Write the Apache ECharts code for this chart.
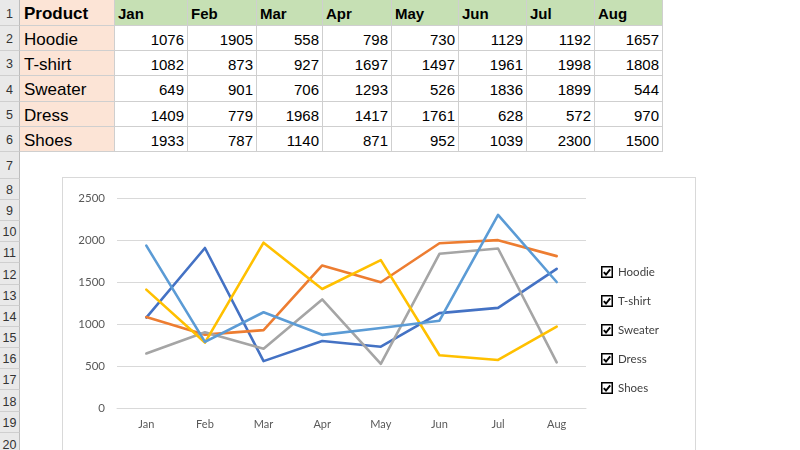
<!DOCTYPE html>
<html>
<head>
<meta charset="utf-8">
<script src="https://cdn.jsdelivr.net/npm/echarts@6/dist/echarts.min.js"></script>
<style>
  html, body { margin: 0; padding: 0; width: 800px; height: 450px; overflow: hidden; background: #fff; }
  #sheet { position: absolute; left: 0; top: 0; width: 800px; height: 450px; }
  .cell { position: absolute; box-sizing: border-box; border-right: 1px solid #cfcfcf; border-bottom: 1px solid #cfcfcf;
          font-family: "Liberation Sans", Arial, sans-serif; font-size: 15px; color: #000; white-space: nowrap; overflow: hidden; }
  .rowhead { background: #e9e9e9; color: #333; font-size: 12.5px; text-align: center; border-right: 1px solid #bdbdbd; border-bottom: 1px solid #cfcfcf; }
  #chart { position: absolute; left: 62px; top: 177px; width: 634px; height: 300px; box-sizing: border-box; border: 1px solid #d9d9d9; background: #fff; }
</style>
</head>
<body>
<div id="sheet"></div>
<div id="chart"></div>
<script>
  // table / chart data
  var months = ['Jan', 'Feb', 'Mar', 'Apr', 'May', 'Jun', 'Jul', 'Aug'];
  var products = ['Hoodie', 'T-shirt', 'Sweater', 'Dress', 'Shoes'];
  var hoodie  = [1076, 1905, 558, 798, 730, 1129, 1192, 1657];
  var tshirt  = [1082, 873, 927, 1697, 1497, 1961, 1998, 1808];
  var sweater = [649, 901, 706, 1293, 526, 1836, 1899, 544];
  var dress   = [1409, 779, 1968, 1417, 1761, 628, 572, 970];
  var shoes   = [1933, 787, 1140, 871, 952, 1039, 2300, 1500];
  var colors  = ['#4472C4', '#ED7D31', '#A5A5A5', '#FFC000', '#5B9BD5'];
  var yTicks  = [0, 500, 1000, 1500, 2000, 2500];
  var rows = [hoodie, tshirt, sweater, dress, shoes];

  // spreadsheet grid
  var colX = [0, 20, 115, 188, 257, 323, 392, 459, 527, 595, 663];
  var rowY = [0, 26, 51, 76, 102, 127, 152, 179, 200, 221, 242, 263, 285, 306, 327, 348, 369, 390, 412, 433, 455];
  var sheet = document.getElementById('sheet');

  function cell(x0, y0, x1, y1, text, style, cls) {
    var d = document.createElement('div');
    d.className = cls || 'cell';
    d.style.left = x0 + 'px';
    d.style.top = y0 + 'px';
    d.style.width = (x1 - x0) + 'px';
    d.style.height = (y1 - y0) + 'px';
    d.style.lineHeight = (y1 - y0 + 2) + 'px';
    if (style) for (var k in style) d.style[k] = style[k];
    d.textContent = text;
    sheet.appendChild(d);
  }

  for (var r = 0; r < rowY.length - 1; r++) {
    cell(colX[0], rowY[r], colX[1], rowY[r + 1], String(r + 1), null, 'cell rowhead');
  }
  // header row
  cell(colX[1], rowY[0], colX[2], rowY[1], 'Product', { background: '#fce4d6', fontWeight: 'bold', fontSize: '17px', paddingLeft: '4px' });
  for (var c = 0; c < months.length; c++) {
    cell(colX[c + 2], rowY[0], colX[c + 3], rowY[1], months[c], { background: '#c6e0b4', fontWeight: 'bold', paddingLeft: '3px' });
  }
  for (var i = 0; i < products.length; i++) {
    cell(colX[1], rowY[i + 1], colX[2], rowY[i + 2], products[i], { background: '#fce4d6', fontSize: '17px', paddingLeft: '4px' });
    for (var c = 0; c < months.length; c++) {
      cell(colX[c + 2], rowY[i + 1], colX[c + 3], rowY[i + 2], String(rows[i][c]), { textAlign: 'right', paddingRight: '3px' });
    }
  }

  var checkIcon = 'image://data:image/svg+xml;charset=utf-8,' + encodeURIComponent(
    "<svg xmlns='http://www.w3.org/2000/svg' width='12' height='12' viewBox='0 0 12 12'>" +
    "<rect x='0.75' y='0.75' width='10.5' height='10.5' fill='white' stroke='black' stroke-width='1.5'/>" +
    "<path d='M2.8 6.1 L5 8.5 L9.2 3.3' fill='none' stroke='black' stroke-width='1.9'/></svg>");

  var series = products.map(function (name, i) {
    return {
      name: name,
      type: 'line',
      data: rows[i],
      symbol: 'none',
      lineStyle: { width: 2.6, color: colors[i], cap: 'round', join: 'round' },
      itemStyle: { color: colors[i] }
    };
  });

  var myChart = echarts.init(document.getElementById('chart'));
  myChart.setOption({
    animation: false,
    textStyle: { fontFamily: 'Lato, "Open Sans", sans-serif' },
    grid: { left: 54, top: 20, width: 469, height: 210 },
    legend: {
      orient: 'vertical',
      left: 538,
      top: 88,
      padding: 0,
      icon: checkIcon,
      itemWidth: 12,
      itemHeight: 12,
      itemGap: 17,
      textStyle: { fontSize: 11.5, color: '#404040', lineHeight: 12 },
      data: products
    },
    xAxis: {
      type: 'category',
      boundaryGap: true,
      data: months,
      axisLine: { lineStyle: { color: '#d9d9d9', width: 1 } },
      axisTick: { show: false },
      axisLabel: { color: '#595959', fontSize: 11, margin: 11 }
    },
    yAxis: {
      type: 'value',
      min: yTicks[0],
      max: yTicks[yTicks.length - 1],
      interval: 500,
      axisLine: { show: false },
      axisTick: { show: false },
      axisLabel: { color: '#595959', fontSize: 11.5, margin: 12, formatter: function (v) { return String(v); } },
      splitLine: { lineStyle: { color: '#d9d9d9', width: 1 } }
    },
    series: series
  });
</script>
</body>
</html>
